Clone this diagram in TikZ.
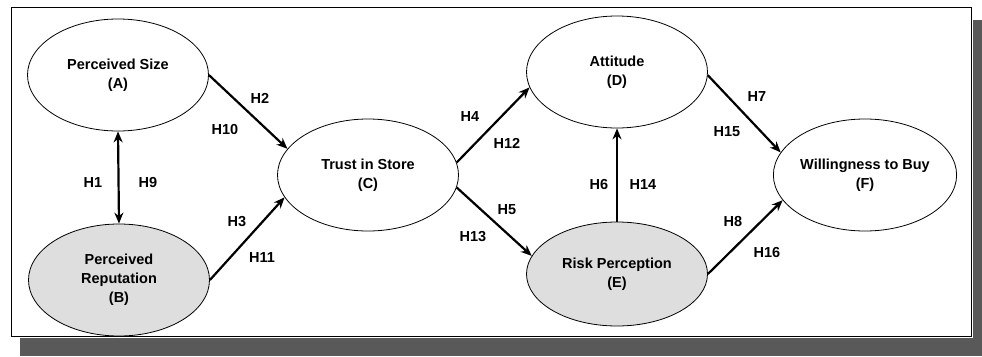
\documentclass[tikz,border=0pt]{standalone}
\usepackage{fontspec}
\setmainfont{Liberation Sans}
\usetikzlibrary{arrows.meta,shapes.geometric}

\begin{document}
\begin{tikzpicture}[x=1pt,y=-1pt]
    \tikzset{every node/.style={font=\bfseries\fontsize{14.5}{19}\selectfont,align=center}}
    \tikzset{construct/.style={draw,ellipse,line width=0.8pt,inner sep=0pt,minimum width=181pt,minimum height=112pt}}
    \tikzset{shaded/.style={construct,fill=black!13}}
    \tikzset{path/.style={line width=2.2pt,-{Stealth[length=11pt,width=9pt]}}}
    \tikzset{hyp/.style={inner sep=1pt}}
    \useasboundingbox (0,0) rectangle (982,356);
    \fill[black!65] (973,20) rectangle (982,356);
    \fill[black!65] (20,338) rectangle (982,356);
    \draw[line width=1pt] (11,7) rectangle (971,336);
    \node[construct] (size) at (118,75) {Perceived Size\\(A)};
    \node[shaded] (reput) at (119,280) {Perceived\\Reputation\\(B)};
    \node[construct] (trust) at (368,175) {Trust in Store\\(C)};
    \node[construct] (attit) at (617,72) {Attitude\\(D)};
    \node[shaded, minimum height=104pt] (risk) at (617,274) {Risk Perception\\(E)};
    \node[construct] (buy) at (865,175) {Willingness to Buy\\(F)};
    \draw[path,{Stealth[length=11pt,width=9pt]}-{Stealth[length=11pt,width=9pt]}] (size.south) -- (reput.north);
    \draw[path] (size.east) -- (trust.162);
    \draw[path] (reput.east) -- (trust.195);
    \draw[path] (trust.8) -- (attit.190);
    \draw[path] (trust.-8) -- (risk.168);
    \draw[path] (risk.north) -- (attit.south);
    \draw[path] (attit.-2) -- (buy.165);
    \draw[path] (risk.east) -- (buy.197);
    \node[hyp] (h1) at (93,183) {H1};
    \node[hyp] (h9) at (148,183) {H9};
    \node[hyp] (h2) at (260,98) {H2};
    \node[hyp] (h10) at (225,130) {H10};
    \node[hyp] (h3) at (237,222) {H3};
    \node[hyp] (h11) at (262,258) {H11};
    \node[hyp] (h4) at (470,117) {H4};
    \node[hyp] (h12) at (507,143) {H12};
    \node[hyp] (h5) at (507,210) {H5};
    \node[hyp] (h13) at (473,237) {H13};
    \node[hyp] (h6) at (599,185) {H6};
    \node[hyp] (h14) at (643,185) {H14};
    \node[hyp] (h7) at (757,97) {H7};
    \node[hyp] (h15) at (727,132) {H15};
    \node[hyp] (h8) at (733,222) {H8};
    \node[hyp] (h16) at (767,253) {H16};
\end{tikzpicture}
\end{document}
